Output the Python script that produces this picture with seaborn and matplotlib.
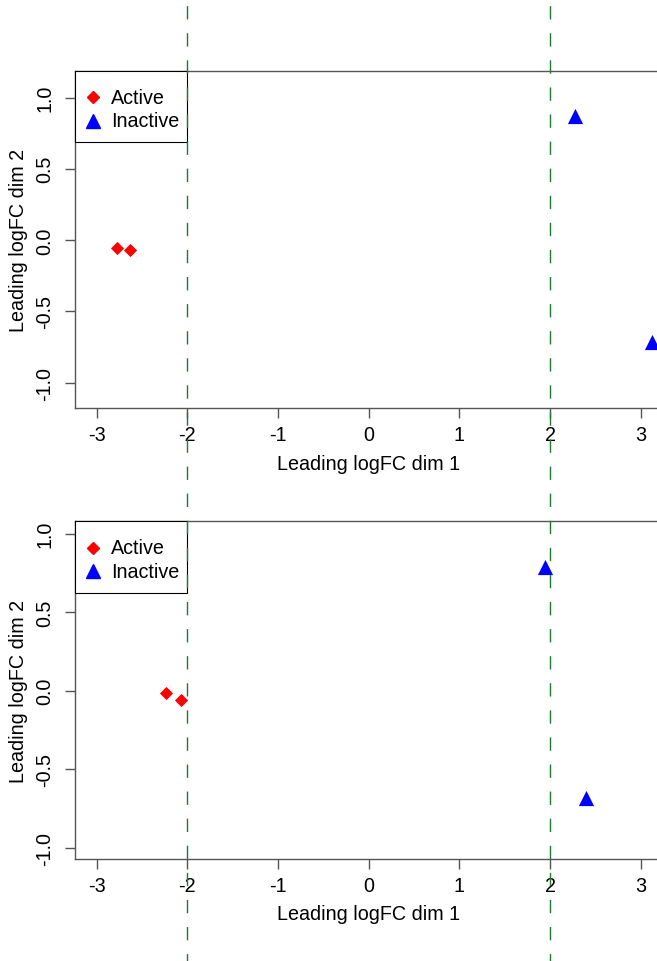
import numpy as np
import pandas as pd
import matplotlib
matplotlib.use("Agg")
import matplotlib.pyplot as plt
import matplotlib.transforms as mtransforms
from matplotlib.lines import Line2D
from matplotlib.offsetbox import (AnchoredOffsetbox, DrawingArea, HPacker,
                                  TextArea, VPacker)
import seaborn as sns

# MDS coordinates
top_active_x = [-2.77, -2.63]
top_active_y = [-0.058, -0.070]
top_inactive_x = [2.28, 3.12]
top_inactive_y = [0.87, -0.716]

bottom_active_x = [-2.23, -2.07]
bottom_active_y = [-0.015, -0.057]
bottom_inactive_x = [1.94, 2.40]
bottom_inactive_y = [0.788, -0.684]

groups = ["Active", "Inactive"]
x_ticks = [-3, -2, -1, 0, 1, 2, 3]
y_ticks = [-1.0, -0.5, 0.0, 0.5, 1.0]
cutoffs = [-2, 2]

sns.set_theme(style="ticks")
plt.rcParams["font.family"] = ["Liberation Sans", "DejaVu Sans"]
plt.rcParams["axes.unicode_minus"] = False
plt.rcParams["text.color"] = "black"
plt.rcParams["axes.labelcolor"] = "black"

FS = 14.2
SPINE = "#555555"
GREEN = "#1f7a33"
PX = 0.72  # points per pixel at 100 dpi

palette = {"Active": "red", "Inactive": "blue"}
markers = {"Active": "D", "Inactive": "^"}
sizes = {"Active": 45, "Inactive": 120}
leg_ms = {"Active": 6, "Inactive": 10}


def make_df(ax_x, ay, ix, iy):
    return pd.DataFrame(
        {
            "dim1": list(ax_x) + list(ix),
            "dim2": list(ay) + list(iy),
            "group": ["Active"] * len(ax_x) + ["Inactive"] * len(ix),
        }
    )


def r_legend(ax):
    # R-style legend box: square frame flush with the top-left corner
    rows = []
    for g in groups:
        da = DrawingArea(36 * PX, 16, 0, 0)
        da.add_artist(Line2D([18 * PX], [8], linestyle="none", marker=markers[g],
                             color=palette[g], markersize=leg_ms[g]))
        txt = TextArea(g, textprops=dict(fontsize=FS, color="black"))
        rows.append(HPacker(children=[da, txt], align="center", pad=0, sep=0))
    box = VPacker(children=[DrawingArea(10, 13.6 * PX, 0, 0), rows[0], rows[1],
                            DrawingArea(10, 8.7 * PX, 0, 0)],
                  align="left", pad=0, sep=1)
    outer = HPacker(children=[box, DrawingArea(8 * PX, 10, 0, 0)], pad=0, sep=0)
    anc = AnchoredOffsetbox(loc="upper left", child=outer, pad=0, borderpad=0,
                            frameon=True, bbox_to_anchor=(0, 1),
                            bbox_transform=ax.transAxes)
    anc.patch.set_boxstyle("square", pad=0)
    anc.patch.set_edgecolor("black")
    anc.patch.set_linewidth(0.8)
    anc.set_zorder(5)
    ax.add_artist(anc)


def draw_panel(ax, df, ylim):
    for g in groups:
        sub = df[df["group"] == g]
        sns.scatterplot(
            data=sub, x="dim1", y="dim2", ax=ax, color=palette[g],
            marker=markers[g], s=sizes[g], linewidth=0, legend=False,
            clip_on=False, zorder=3,
        )
    ax.set_xlim(-3.238, 3.245)
    ax.set_ylim(*ylim)
    ax.set_xticks(x_ticks)
    ax.set_xticklabels([str(v) for v in x_ticks])
    ax.set_yticks(y_ticks)
    ax.set_yticklabels([f"{v:.1f}" for v in y_ticks], rotation=90, va="center")
    ax.tick_params(axis="both", length=7, width=1, color=SPINE,
                   labelsize=FS, labelcolor="black", direction="out")
    ax.tick_params(axis="x", pad=5)
    ax.tick_params(axis="y", pad=8)
    for side in ["left", "top", "bottom", "right"]:
        ax.spines[side].set_visible(True)
        ax.spines[side].set_color(SPINE)
        ax.spines[side].set_linewidth(1)
    ax.set_xlabel("Leading logFC dim 1", fontsize=FS, labelpad=7)
    ax.set_ylabel("Leading logFC dim 2", fontsize=FS, labelpad=5)
    r_legend(ax)


fig = plt.figure(figsize=(6.57, 9.62), dpi=100)
# plot regions run a little past the right edge of the picture
ax_top = fig.add_axes([0.11416, 0.5745, 0.895, 0.3509])
ax_bot = fig.add_axes([0.11416, 0.10603, 0.895, 0.3510])

draw_panel(ax_top, make_df(top_active_x, top_active_y, top_inactive_x, top_inactive_y),
           (-1.181, 1.188))
draw_panel(ax_bot, make_df(bottom_active_x, bottom_active_y, bottom_inactive_x, bottom_inactive_y),
           (-1.072, 1.079))

# cutoff lines run through the whole figure
trans = mtransforms.blended_transform_factory(ax_top.transData, fig.transFigure)
for c in cutoffs:
    fig.add_artist(Line2D([c, c], [1, 0], transform=trans, color=GREEN, lw=1,
                          linestyle=(14.7, (9.6, 9.9)), zorder=10))

fig.savefig("out.png", dpi=100)
